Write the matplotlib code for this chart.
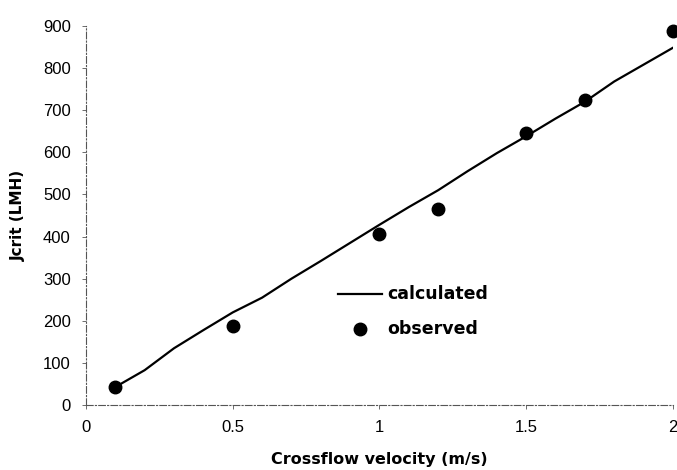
import matplotlib.pyplot as plt

plt.rcParams['font.family'] = ['Liberation Sans', 'DejaVu Sans']

# calculated curve
calc_v = [0.1, 0.2, 0.3, 0.4, 0.5, 0.6, 0.7, 0.8, 0.9, 1.0,
          1.1, 1.2, 1.3, 1.4, 1.5, 1.6, 1.7, 1.8, 1.9, 2.0]
calc_j = [43, 83, 135, 178, 220, 255, 300, 342, 385, 428,
          470, 510, 555, 598, 638, 680, 720, 768, 808, 848]

# observed points
obs_v = [0.1, 0.5, 1.0, 1.2, 1.5, 1.7, 2.0]
obs_j = [43, 188, 405, 465, 646, 724, 888]

fig = plt.figure(figsize=(6.77, 4.70), dpi=100)
ax = fig.add_axes([0.127, 0.138, 0.867, 0.807])

ax.plot(calc_v, calc_j, color='black', linewidth=1.6, label='calculated')
ax.plot(obs_v, obs_j, 'o', color='black', markersize=9, label='observed', clip_on=False)

ax.set_xlim(0, 2)
ax.set_ylim(0, 900)
ax.set_xticks([0, 0.5, 1, 1.5, 2])
ax.set_xticklabels(['0', '0.5', '1', '1.5', '2'])
ax.set_yticks(range(0, 1000, 100))

for side in ['top', 'right']:
    ax.spines[side].set_visible(False)
for side in ['left', 'bottom']:
    ax.spines[side].set_linestyle((0, (6, 2, 1, 2)))
    ax.spines[side].set_color('#555555')
    ax.spines[side].set_linewidth(0.8)

ax.tick_params(axis='both', labelsize=12, length=3, width=0.6, color='#555555', pad=8)

ax.set_xlabel('Crossflow velocity (m/s)', fontsize=11.5, fontweight='bold',
              family='DejaVu Sans', labelpad=12)
ax.set_ylabel('Jcrit (LMH)', fontsize=11, fontweight='bold',
              family='DejaVu Sans', labelpad=12)

leg = ax.legend(loc='upper left', bbox_to_anchor=(0.487, 0.4116), bbox_transform=fig.transFigure,
                frameon=False, prop={'family': 'DejaVu Sans', 'weight': 'bold', 'size': 12.5},
                handlelength=2.5, handleheight=0.2, labelspacing=0.95,
                handletextpad=0.3, borderpad=0)

fig.savefig('out.png', dpi=100)
